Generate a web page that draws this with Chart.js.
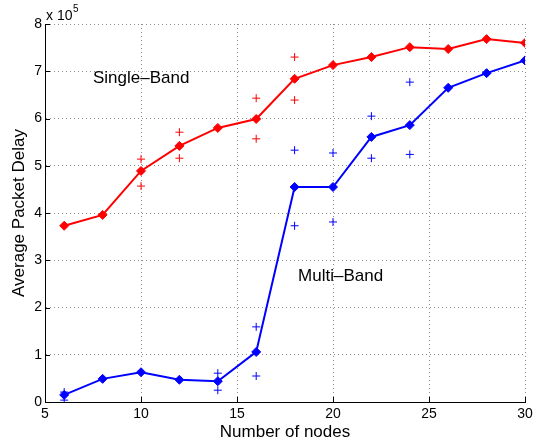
<!DOCTYPE html>
<html>
<head>
<meta charset="utf-8">
<script src="https://cdn.jsdelivr.net/npm/chart.js@4.4.0/dist/chart.umd.min.js"></script>
<style>
  html, body { margin: 0; padding: 0; background: #fff; }
  #wrap { width: 545px; height: 446px; }
</style>
</head>
<body>
<div id="wrap"><canvas id="delayChart"></canvas></div>
<script>
// --- Data -------------------------------------------------------------------
var nodes      = [6, 8, 10, 12, 14, 16, 18, 20, 22, 24, 26, 28, 30];
var singleBand = [373000, 396000, 489000, 542000, 580000, 599000, 684000, 713000, 730000, 751000, 747000, 768000, 760000];
var multiBand  = [15000, 49000, 63000, 47000, 44000, 106000, 455000, 455000, 561000, 586000, 665000, 696000, 723000];

// spread markers (+) around the means
var singleSpreadX = [10, 10, 12, 12, 16, 16, 18, 18];
var singleSpreadY = [514000, 457000, 571000, 516000, 643000, 557000, 730000, 639000];
var multiSpreadX  = [6, 6, 14, 14, 16, 16, 18, 18, 20, 20, 22, 22, 24, 24];
var multiSpreadY  = [21000, 4000, 61000, 25000, 159000, 55000, 533000, 373000, 527000, 381000, 605000, 516000, 677000, 524000];

var xTicks = [5, 10, 15, 20, 25, 30];
var yTicks = [0, 1, 2, 3, 4, 5, 6, 7, 8];
var yExponent = 5;

var FONT = '"Liberation Sans", Arial, Helvetica, sans-serif';
var RED = 'rgb(255,0,0)';
var BLUE = 'rgb(0,0,255)';

function pairs(xs, ys){
  return xs.map(function(x, i){ return { x: x, y: ys[i] }; });
}

// --- Plugin: inward ticks, exponent, in-plot labels -------------------------
var decorations = {
  id: 'decorations',
  afterDraw: function(chart){
    var ctx = chart.ctx;
    var area = chart.chartArea;
    var xs = chart.scales.x, ys = chart.scales.y;
    ctx.save();
    ctx.strokeStyle = '#000';
    ctx.lineWidth = 1;
    ctx.beginPath();
    xTicks.forEach(function(t){
      var px = Math.round(xs.getPixelForValue(t)) + 0.5;
      ctx.moveTo(px, area.bottom);
      ctx.lineTo(px, area.bottom - 5);
    });
    yTicks.forEach(function(t){
      var py = Math.round(ys.getPixelForValue(t * Math.pow(10, yExponent))) + 0.5;
      ctx.moveTo(area.left, py);
      ctx.lineTo(area.left + 5, py);
    });
    ctx.stroke();

    ctx.fillStyle = '#000';
    ctx.textBaseline = 'alphabetic';
    ctx.textAlign = 'left';
    ctx.font = '14px ' + FONT;
    ctx.fillText('x 10', area.left + 1, area.top - 4);
    ctx.font = '10px ' + FONT;
    ctx.fillText(String(yExponent), area.left + 28, area.top - 12);

    ctx.font = '17px ' + FONT;
    ctx.textBaseline = 'middle';
    ctx.fillText('Single\u2013Band', xs.getPixelForValue(7.5), ys.getPixelForValue(686000));
    ctx.fillText('Multi\u2013Band', xs.getPixelForValue(18.18), ys.getPixelForValue(265000));
    ctx.restore();
  }
};

var ctx = document.getElementById('delayChart').getContext('2d');
window.delayChart = new Chart(ctx, {
  type: 'line',
  data: {
    datasets: [{
      label: 'Single-Band',
      data: pairs(nodes, singleBand),
      borderColor: RED,
      backgroundColor: RED,
      borderWidth: 2,
      pointStyle: 'rectRot',
      pointRadius: 4.5,
      pointBorderWidth: 1,
      tension: 0
    },{
      label: 'Multi-Band',
      data: pairs(nodes, multiBand),
      borderColor: BLUE,
      backgroundColor: BLUE,
      borderWidth: 2,
      pointStyle: 'rectRot',
      pointRadius: 4.5,
      pointBorderWidth: 1,
      tension: 0
    },{
      label: 'Single-Band spread',
      data: pairs(singleSpreadX, singleSpreadY),
      showLine: false,
      borderColor: RED,
      pointStyle: 'cross',
      pointRadius: 4,
      pointBorderWidth: 1
    },{
      label: 'Multi-Band spread',
      data: pairs(multiSpreadX, multiSpreadY),
      showLine: false,
      borderColor: BLUE,
      pointStyle: 'cross',
      pointRadius: 4,
      pointBorderWidth: 1
    }]
  },
  options: {
    responsive: true,
    maintainAspectRatio: false,
    animation: false,
    layout: { padding: { top: 24, right: 20, left: 0, bottom: 0 } },
    plugins: {
      legend: { display: false },
      tooltip: { enabled: false }
    },
    scales: {
      x: {
        type: 'linear',
        min: 5,
        max: 30,
        afterBuildTicks: function(scale){
          scale.ticks = xTicks.map(function(v){ return { value: v }; });
        },
        afterFit: function(scale){ scale.height = 44; },
        grid: { color: '#8c8c8c', lineWidth: 1, drawTicks: false },
        border: { display: true, color: '#000', width: 1, dash: [1, 3] },
        ticks: { color: '#000', padding: 4, font: { family: FONT, size: 14 }, maxRotation: 0 },
        title: { display: true, text: 'Number of nodes', color: '#000', font: { family: FONT, size: 17 }, padding: { top: 0, bottom: 3 } }
      },
      y: {
        type: 'linear',
        min: 0,
        max: 800000,
        afterBuildTicks: function(scale){
          scale.ticks = yTicks.map(function(v){ return { value: v * Math.pow(10, yExponent) }; });
        },
        afterFit: function(scale){ scale.width = 45; },
        grid: { color: '#8c8c8c', lineWidth: 1, drawTicks: false },
        border: { display: true, color: '#000', width: 1, dash: [1, 3] },
        ticks: {
          color: '#000',
          padding: 3,
          font: { family: FONT, size: 14 },
          callback: function(v){ return String(Math.round(v / Math.pow(10, yExponent))); }
        },
        title: { display: true, text: 'Average Packet Delay', color: '#000', font: { family: FONT, size: 17 }, padding: { top: 9, bottom: 0 } }
      }
    }
  },
  plugins: [decorations]
});
</script>
</body>
</html>
